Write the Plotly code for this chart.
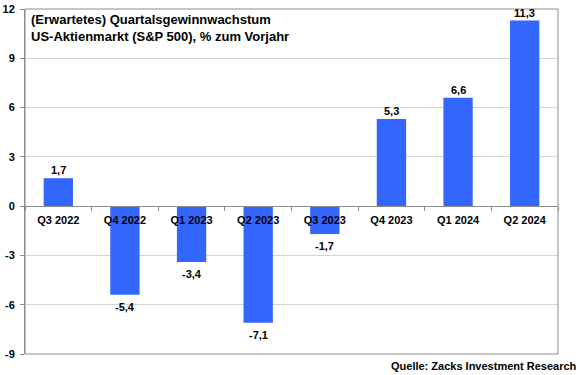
import plotly.graph_objects as go

categories = ["Q3 2022", "Q4 2022", "Q1 2023", "Q2 2023", "Q3 2023", "Q4 2023", "Q1 2024", "Q2 2024"]
values = [1.7, -5.4, -3.4, -7.1, -1.7, 5.3, 6.6, 11.3]
y_ticks = [-9, -6, -3, 0, 3, 6, 9, 12]
title_lines = ["(Erwartetes) Quartalsgewinnwachstum", "US-Aktienmarkt (S&P 500), % zum Vorjahr"]
source = "Quelle: Zacks Investment Research"

FONT = "Liberation Sans, Arial, sans-serif"
labels = [f"{v:.1f}".replace(".", ",") for v in values]

fig = go.Figure()
fig.add_trace(go.Bar(
    x=categories, y=values,
    marker=dict(color="#3366ff", line=dict(width=0)),
    width=0.44,
    hoverinfo="skip",
))

value_annotations = [
    dict(x=c, y=v, xref="x", yref="y", text=f"<b>{t}</b>", showarrow=False,
         yanchor="bottom" if v >= 0 else "top", yshift=0 if v >= 0 else -4,
         font=dict(family=FONT, size=11, color="#000000"))
    for c, v, t in zip(categories, values, labels)
]

y0 = 0
ymin, ymax = -9, 12
fig.update_layout(
    width=580, height=375,
    margin=dict(l=25, r=22, t=9, b=21, autoexpand=False),
    paper_bgcolor="white", plot_bgcolor="white",
    showlegend=False,
    font=dict(family=FONT, color="#000000"),
    xaxis=dict(
        type="category",
        anchor="free",
        position=(y0 - ymin) / (ymax - ymin),
        automargin=False,
        showline=True, linecolor="#8c8c8c", linewidth=1,
        ticks="outside", ticklen=4, tickcolor="#8c8c8c", tickson="boundaries",
        ticklabelstandoff=4,
        showgrid=False,
        tickfont=dict(family=FONT, size=11, color="#000000"),
        tickprefix="<b>", ticksuffix="</b>",
        layer="above traces",
    ),
    yaxis=dict(
        range=[ymin, ymax],
        automargin=False,
        tickvals=y_ticks,
        ticktext=[f"<b>{t}</b>" for t in y_ticks],
        tickfont=dict(family=FONT, size=11, color="#000000"),
        showgrid=True, gridcolor="#d4d4d4", gridwidth=1,
        zeroline=False,
        showline=True, linecolor="#8c8c8c", linewidth=1,
        ticks="outside", ticklen=4, tickcolor="#8c8c8c",
        ticklabelstandoff=3,
    ),
    shapes=[dict(type="rect", xref="paper", yref="paper", x0=0, x1=1, y0=0, y1=1,
                 line=dict(color="#8c8c8c", width=1), layer="above")],
    annotations=value_annotations + [
        dict(text="<b>" + "<br>".join(title_lines) + "</b>", xref="paper", yref="paper",
             x=0.008, y=0.998, xanchor="left", yanchor="top", align="left", showarrow=False,
             font=dict(family=FONT, size=13, color="#000000")),
        dict(text="<b>" + source + "</b>", xref="paper", yref="paper",
             x=1.04, y=-0.012, xanchor="right", yanchor="top", showarrow=False,
             font=dict(family=FONT, size=11, color="#000000")),
    ],
)

fig.write_html("out.html", config={"displayModeBar": False},
               post_script="document.body.style.margin='0';document.body.style.overflow='hidden';")
